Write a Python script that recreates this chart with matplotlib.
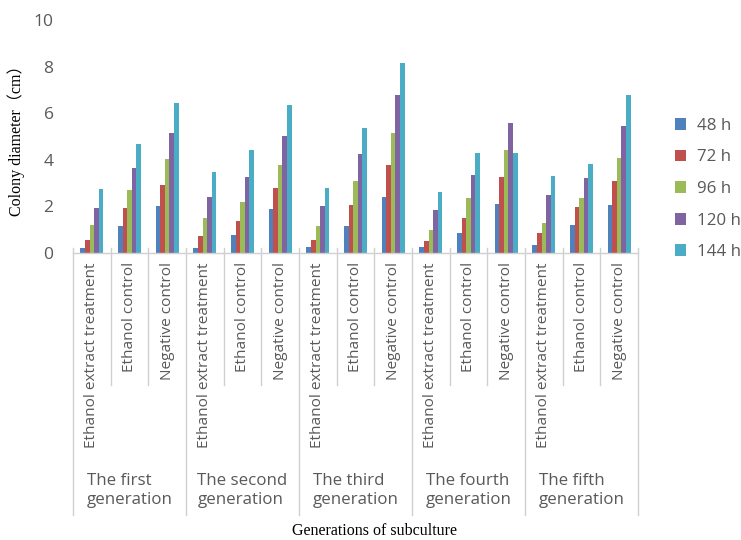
import matplotlib
matplotlib.use("Agg")
import matplotlib.pyplot as plt
import matplotlib.transforms as mtransforms
import numpy as np

plt.rcParams['font.family'] = ['Open Sans', 'DejaVu Sans']

generations = ["The first\ngeneration", "The second\ngeneration", "The third\ngeneration",
               "The fourth\ngeneration", "The fifth\ngeneration"]
treatments = ["Ethanol extract treatment", "Ethanol control", "Negative control"]
series_labels = ["48 h", "72 h", "96 h", "120 h", "144 h"]
colors = ["#4F81BD", "#C0504D", "#9BBB59", "#8064A2", "#4BACC6"]

# colony diameter (cm), one list per time point, 15 categories (5 generations x 3 treatments)
h48 = [0.21, 1.17, 2.01, 0.21, 0.76, 1.89, 0.26, 1.14, 2.40, 0.24, 0.86, 2.09, 0.36, 1.20, 2.06]
h72 = [0.57, 1.94, 2.90, 0.74, 1.37, 2.77, 0.57, 2.04, 3.79, 0.53, 1.51, 3.27, 0.86, 1.96, 3.11]
h96 = [1.22, 2.69, 4.04, 1.49, 2.19, 3.76, 1.17, 3.07, 5.14, 0.97, 2.36, 4.41, 1.27, 2.36, 4.09]
h120 = [1.93, 3.66, 5.16, 2.41, 3.27, 5.03, 2.00, 4.23, 6.80, 1.86, 3.34, 5.57, 2.51, 3.21, 5.47]
h144 = [2.73, 4.66, 6.44, 3.46, 4.44, 6.36, 2.80, 5.36, 8.16, 2.61, 4.27, 4.27, 3.30, 3.81, 6.77]
series = [h48, h72, h96, h120, h144]

fig = plt.figure(figsize=(7.41, 5.40), dpi=100)
ax = fig.add_axes([0.0985, 0.5315, 0.7625, 0.4315])

n_cat = len(h48)
x = np.arange(n_cat)
bw = 0.122
for i, (vals, lab, col) in enumerate(zip(series, series_labels, colors)):
    ax.bar(x + (i - 2) * bw, vals, width=bw, color=col, label=lab, linewidth=0)

ax.set_xlim(-0.5, n_cat - 0.5)
ax.set_ylim(0, 10)
ax.set_yticks([0, 2, 4, 6, 8, 10])
ax.tick_params(axis='y', length=0, labelsize=12.5, labelcolor='#595959', pad=14)
ax.set_xticks([])
for s in ['top', 'right', 'left']:
    ax.spines[s].set_visible(False)
ax.spines['bottom'].set_color('#D0D0D0')
ax.spines['bottom'].set_linewidth(1.0)

trans = mtransforms.blended_transform_factory(ax.transData, ax.transAxes)
sep_color = '#D0D0D0'
# separators between treatments and between generations
for g in range(len(generations)):
    for k in (0.5, 1.5):
        ax.plot([g * 3 + k] * 2, [0.02, -0.5665], transform=trans, color=sep_color,
                lw=1.0, clip_on=False)
for g in range(len(generations) + 1):
    ax.plot([g * 3 - 0.5] * 2, [0.02, -1.124], transform=trans, color=sep_color,
            lw=1.0, clip_on=False)

# treatment labels
for c in range(n_cat):
    ax.text(c, -0.04, treatments[c % 3], transform=trans, rotation=90, ha='center',
            va='top', fontsize=11.1, color='#595959')

# generation labels
for g, name in enumerate(generations):
    ax.text(g * 3 + 1, -1.02, name, transform=trans, ha='center', va='center',
            multialignment='left', fontsize=12.2, color='#595959', linespacing=1.25)

ax.set_ylabel("Colony diameter（cm）", family=['Liberation Serif', 'Noto Sans CJK SC'],
              fontsize=11.5, color='black', labelpad=6)
fig.text(0.506, 0.002, "Generations of subculture", family=['Liberation Serif'],
         fontsize=11.5, ha='center', va='bottom', color='black')

leg = ax.legend(loc='center left', bbox_to_anchor=(0.899, 0.650),
                bbox_transform=fig.transFigure, frameon=False, fontsize=12.2,
                handlelength=0.7, handleheight=0.7, handletextpad=0.6,
                labelspacing=0.92, borderpad=0)
for t in leg.get_texts():
    t.set_color('#595959')

fig.savefig("out.png", dpi=100)
